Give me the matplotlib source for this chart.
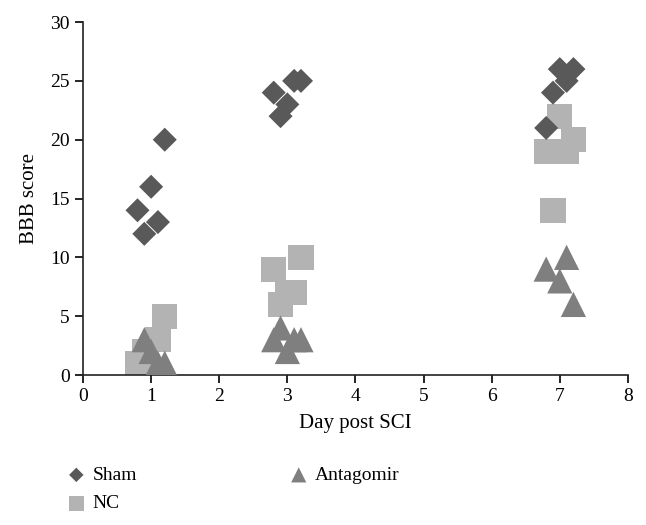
import matplotlib.pyplot as plt
import matplotlib
matplotlib.rcParams['font.family'] = ['Liberation Serif', 'DejaVu Serif']

# BBB score per animal, day post SCI (x jittered around 1, 3, 7)
sham_x = [0.8, 0.9, 1.0, 1.1, 1.2, 2.8, 2.9, 3.0, 3.1, 3.2, 6.8, 6.9, 7.0, 7.1, 7.2]
sham_y = [14, 12, 16, 13, 20, 24, 22, 23, 25, 25, 21, 24, 26, 25, 26]

nc_x = [0.8, 0.9, 1.0, 1.1, 1.2, 2.8, 2.9, 3.0, 3.1, 3.2, 6.8, 6.9, 7.0, 7.1, 7.2]
nc_y = [1, 2, 0, 3, 5, 9, 6, 7, 7, 10, 19, 14, 22, 19, 20]

antago_x = [0.9, 1.0, 1.1, 1.2, 2.8, 2.9, 3.0, 3.1, 3.2, 6.8, 7.0, 7.1, 7.2]
antago_y = [3, 2, 1, 1, 3, 4, 2, 3, 3, 9, 8, 10, 6]

xticks = [0, 1, 2, 3, 4, 5, 6, 7, 8]
yticks = [0, 5, 10, 15, 20, 25, 30]

fig = plt.figure(figsize=(6.46, 5.25), dpi=100)
ax = fig.add_axes([0.1285, 0.2857, 0.8435, 0.6723])

ax.scatter(sham_x, sham_y, marker='D', s=150, color='#595959',
           edgecolors='none', label='Sham', zorder=3)
ax.scatter(nc_x, nc_y, marker='s', s=330, color='#b3b3b3',
           edgecolors='none', label='NC', zorder=2)
ax.scatter(antago_x, antago_y, marker='^', s=330, color='#7f7f7f',
           edgecolors='none', label='Antagomir', zorder=4)

ax.set_xlim(0, 8)
ax.set_ylim(0, 30)
ax.set_xticks(xticks)
ax.set_yticks(yticks)
ax.tick_params(labelsize=14, length=6, width=1.2, direction='out')
for s in ['top', 'right']:
    ax.spines[s].set_visible(False)
for s in ['left', 'bottom']:
    ax.spines[s].set_linewidth(1.2)
    ax.spines[s].set_color('#222222')

ax.set_xlabel('Day post SCI', fontsize=15, labelpad=6)
ax.set_ylabel('BBB score', fontsize=15, labelpad=8)

leg = fig.legend(loc='upper left', bbox_to_anchor=(0.076, 0.145), ncol=2,
                 frameon=False, fontsize=14, markerscale=0.6,
                 handlelength=1.0, handletextpad=0.35,
                 columnspacing=7.8, labelspacing=0.55)

fig.savefig('out.png', dpi=100)
